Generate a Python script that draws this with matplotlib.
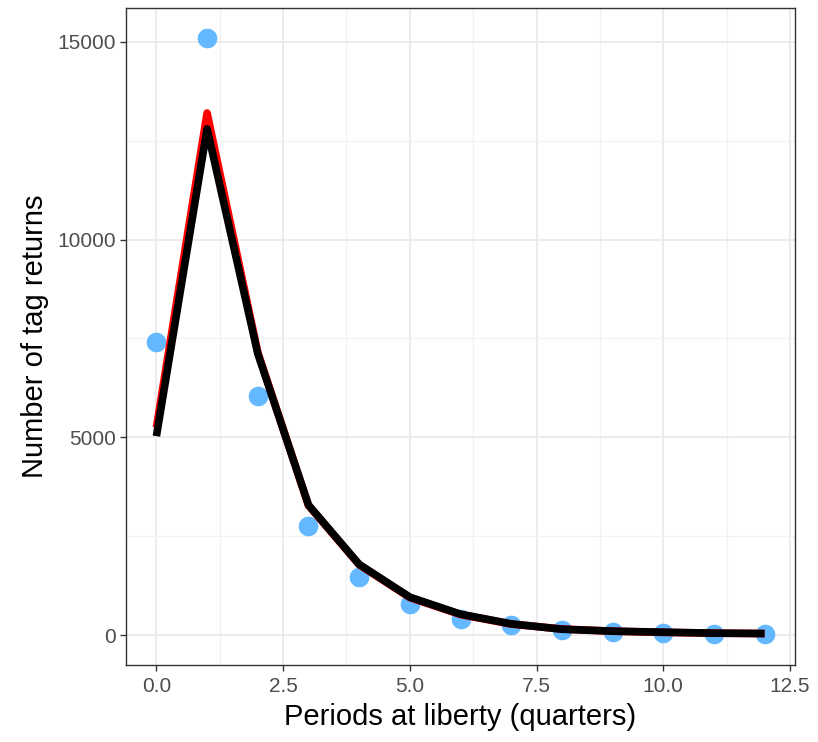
import matplotlib
matplotlib.use("Agg")
import matplotlib.pyplot as plt
import numpy as np

plt.rcParams['font.family'] = ['Liberation Sans', 'DejaVu Sans']

periods = [0, 1, 2, 3, 4, 5, 6, 7, 8, 9, 10, 11, 12]
observed = [7400, 15100, 6040, 2770, 1460, 780, 400, 250, 130, 80, 50, 40, 30]
fit_red = [5250, 13200, 7150, 3280, 1780, 950, 520, 280, 155, 100, 70, 50, 40]
fit_black = [5030, 12800, 7120, 3290, 1790, 960, 530, 285, 150, 100, 75, 50, 40]

xticks = [0.0, 2.5, 5.0, 7.5, 10.0, 12.5]
xtick_labels = ["0.0", "2.5", "5.0", "7.5", "10.0", "12.5"]
yticks = [0, 5000, 10000, 15000]
ytick_labels = ["0", "5000", "10000", "15000"]

fig = plt.figure(figsize=(8.18, 7.42), dpi=100)
ax = fig.add_axes([126/818, 1-665/742, (795-126)/818, (665-8)/742])

ax.scatter(periods, observed, s=200, color="#63B8FF", zorder=3, linewidths=0)
ax.plot(periods, fit_red, color="red", lw=5.5, zorder=4, solid_joinstyle="round", solid_capstyle="butt")
ax.plot(periods, fit_black, color="black", lw=5.5, zorder=5, solid_joinstyle="round", solid_capstyle="butt")

ax.set_xlim(-0.6, 12.6)
ax.set_ylim(-755, 15855)
ax.set_xticks(xticks)
ax.set_xticklabels(xtick_labels)
ax.set_yticks(yticks)
ax.set_yticklabels(ytick_labels)
ax.set_xticks([1.25, 3.75, 6.25, 8.75, 11.25], minor=True)
ax.set_yticks([2500, 7500, 12500], minor=True)
ax.grid(True, which="major", color="#EBEBEB", lw=1.3, zorder=0)
ax.grid(True, which="minor", color="#F2F2F2", lw=0.9, zorder=0)
ax.set_axisbelow(True)
ax.tick_params(which="minor", length=0)
ax.tick_params(which="major", length=4, color="#333333", width=1, labelsize=15, labelcolor="#4D4D4D", pad=3)
ax.tick_params(axis="x", pad=5)
for s in ax.spines.values():
    s.set_color("#333333")
    s.set_linewidth(1)

ax.set_xlabel("Periods at liberty (quarters)", fontsize=21, color="black", labelpad=5)
ax.set_ylabel("Number of tag returns", fontsize=21, color="black", labelpad=6)

fig.savefig("out.png", dpi=100)
